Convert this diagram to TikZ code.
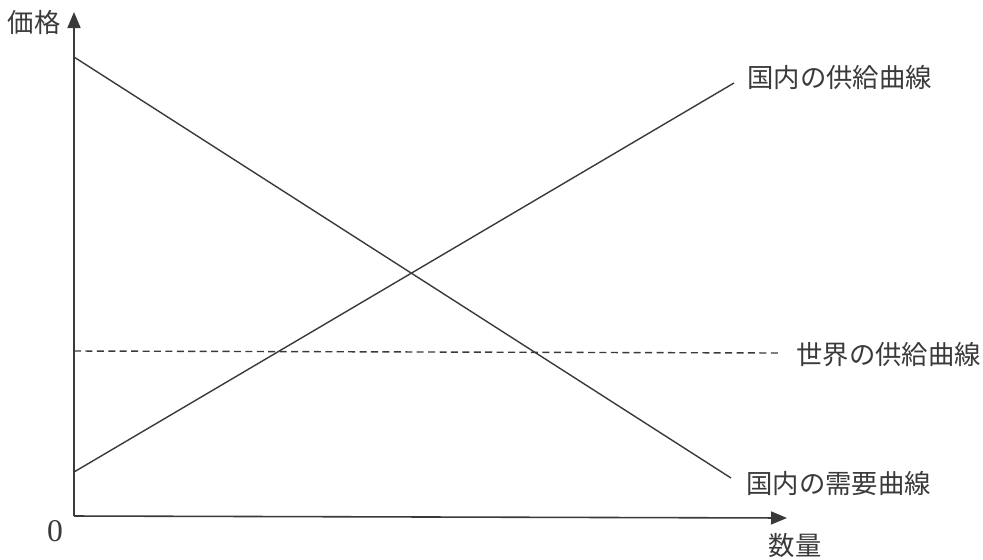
\documentclass[tikz,border=0pt]{standalone}
\usepackage{fontspec}
\newfontfamily\jpfont{Noto Sans CJK JP}
\setmainfont{Liberation Serif}
\usetikzlibrary{arrows.meta, positioning}
\definecolor{myInk}{HTML}{3A3A3A}

\begin{document}
\begin{tikzpicture}[
x=0.2mm, y=-0.2mm,
label/.style={font=\jpfont\fontsize{15}{18}\selectfont, text=myInk, inner sep=0pt},
curve/.style={myInk, line width=0.8pt},
axis/.style={-{Triangle[length=3.2mm, width=2.6mm]}, myInk, line width=0.9pt}
]
\useasboundingbox (0,0) rectangle (983,559);

% axes
\coordinate (o) at (74,516);
\coordinate (ytop) at (74,12);
\coordinate (xend) at (787,518);
\draw[axis] (o) -- (ytop);
\draw[axis] (o) -- (xend);
\node[label, anchor=east] (price) at (61,22) {価格};
\node[label, anchor=north] (qty) at (795,533) {数量};
\node[font=\fontsize{18}{20}\selectfont, text=myInk] (zero) at (55,531) {0};

% curves
\coordinate (d0) at (74,57);
\coordinate (d1) at (731,478);
\coordinate (s0) at (74,472);
\coordinate (s1) at (734,83);
\coordinate (w0) at (74,351);
\coordinate (w1) at (780,353);
\draw[curve] (d0) -- (d1);
\draw[curve] (s0) -- (s1);
\draw[curve, dashed, dash pattern=on 4pt off 2.5pt] (w0) -- (w1);

\node[label, anchor=west] (dsupply) at (747,77) {国内の供給曲線};
\node[label, anchor=west] (wsupply) at (796,355) {世界の供給曲線};
\node[label, anchor=west] (ddemand) at (746,483) {国内の需要曲線};
\end{tikzpicture}
\end{document}
